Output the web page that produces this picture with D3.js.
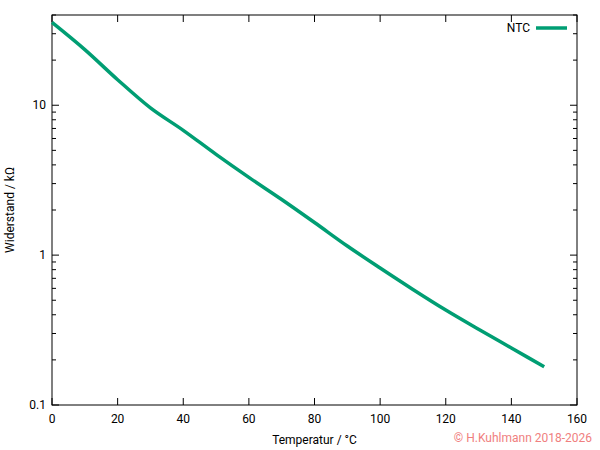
<!DOCTYPE html>
<html><head><meta charset="utf-8">
<script src="https://cdn.jsdelivr.net/npm/d3@7"></script>
<style>body{margin:0;background:#fff}text{font-family:Roboto,sans-serif;font-size:12px}</style>
</head><body><div id="chart"></div>
<script>
// NTC curve
let temps = [0, 10, 20, 30, 40, 50, 60, 70, 80, 90, 100, 110, 120, 130, 140, 150];
let resist = [35.7, 23.5, 14.8, 9.6, 6.8, 4.7, 3.3, 2.35, 1.65, 1.15, 0.82, 0.59, 0.43, 0.32, 0.24, 0.18];
let xTicks = [0, 20, 40, 60, 80, 100, 120, 140, 160];
let yTicks = [0.1, 1, 10];

let svg = d3.select("#chart").append("svg").attr("width", 600).attr("height", 450);
let pLeft = 52, pRight = 577, pTop = 15, pBottom = 405;

let x = d3.scaleLinear().domain([0, 160]).range([pLeft, pRight]);
let y = d3.scaleLog().domain([0.1, 40]).range([pBottom, pTop]);

// minor log ticks
let minor = [];
for (let d of [0.1, 1, 10]) for (let k = 2; k <= 9; k++) if (d * k <= 40) minor.push(d * k);

let g = svg.append("g").attr("stroke", "#000").attr("stroke-width", 1);
xTicks.forEach(t => {
  g.append("line").attr("x1", x(t)).attr("x2", x(t)).attr("y1", pBottom).attr("y2", pBottom - 7);
  g.append("line").attr("x1", x(t)).attr("x2", x(t)).attr("y1", pTop).attr("y2", pTop + 7);
});
yTicks.forEach(t => {
  g.append("line").attr("x1", pLeft).attr("x2", pLeft + 7).attr("y1", y(t)).attr("y2", y(t));
  g.append("line").attr("x1", pRight).attr("x2", pRight - 7).attr("y1", y(t)).attr("y2", y(t));
});
minor.forEach(t => {
  g.append("line").attr("x1", pLeft).attr("x2", pLeft + 4).attr("y1", y(t)).attr("y2", y(t));
  g.append("line").attr("x1", pRight).attr("x2", pRight - 4).attr("y1", y(t)).attr("y2", y(t));
});
svg.append("rect").attr("x", pLeft).attr("y", pTop).attr("width", pRight - pLeft).attr("height", pBottom - pTop)
  .attr("fill", "none").attr("stroke", "#000");

svg.selectAll(".xl").data(xTicks).enter().append("text")
  .attr("x", d => x(d)).attr("y", pBottom + 18).attr("text-anchor", "middle").text(d => d);
svg.selectAll(".yl").data(yTicks).enter().append("text")
  .attr("x", pLeft - 6).attr("y", d => y(d) + 4).attr("text-anchor", "end").text(d => d);

svg.append("text").attr("x", (pLeft + pRight) / 2).attr("y", 444).attr("text-anchor", "middle").text("Temperatur / °C");
svg.append("text").attr("transform", `translate(14, ${(pTop + pBottom) / 2}) rotate(-90)`)
  .attr("text-anchor", "middle").text("Widerstand / kΩ");

let line = d3.line().x((d, i) => x(temps[i])).y(d => y(d)).curve(d3.curveMonotoneX);
svg.append("path").datum(resist).attr("d", line).attr("fill", "none")
  .attr("stroke", "#009e73").attr("stroke-width", 3.5);

// legend
svg.append("text").attr("x", 530).attr("y", 32).attr("text-anchor", "end").text("NTC");
svg.append("line").attr("x1", 536).attr("x2", 567).attr("y1", 28).attr("y2", 28)
  .attr("stroke", "#009e73").attr("stroke-width", 3.5);

svg.append("text").attr("x", 592).attr("y", 442).attr("text-anchor", "end")
  .attr("fill", "#f08080").text("© H.Kuhlmann 2018-2026");
</script></body></html>
